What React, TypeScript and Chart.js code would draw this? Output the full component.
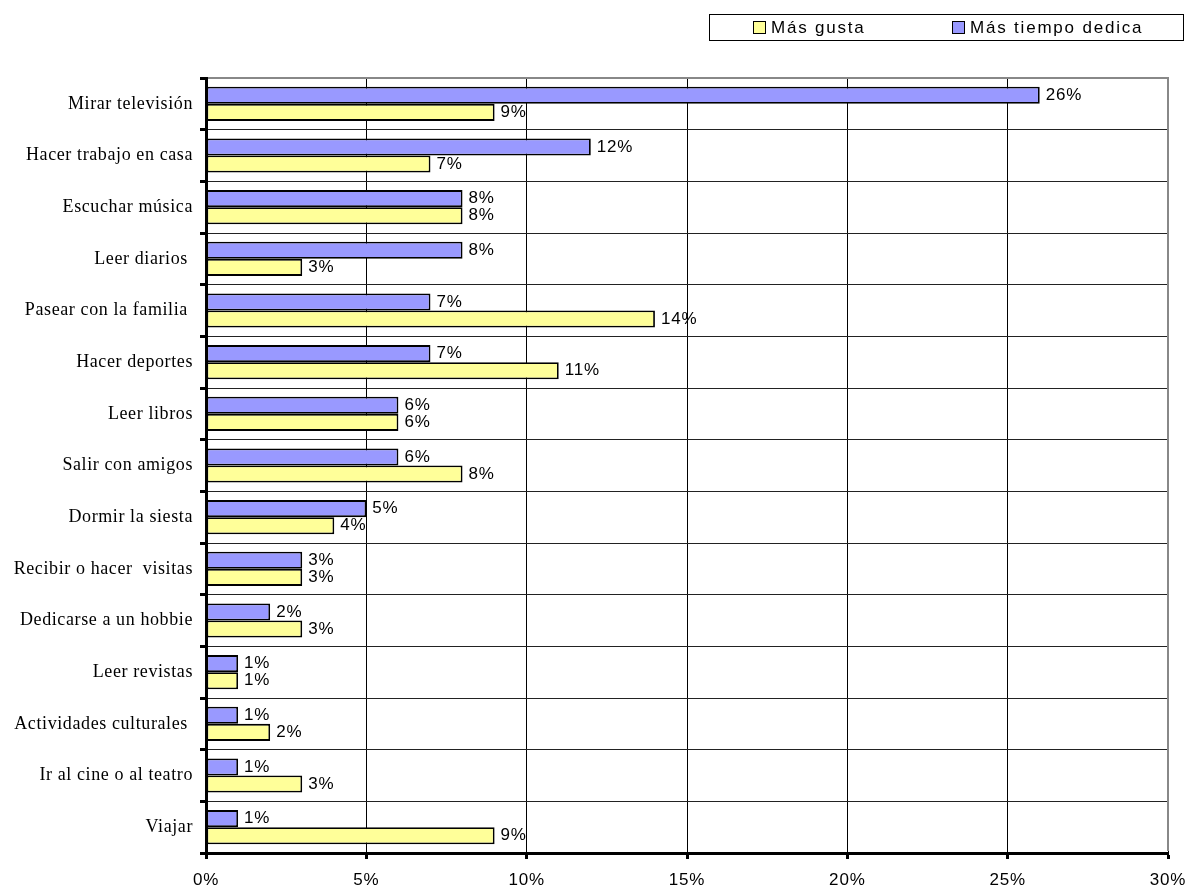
import React, { useEffect, useRef } from 'react';
import { Chart, registerables } from 'chart.js';

Chart.register(...registerables);

const categories = [
  'Mirar televisión',
  'Hacer trabajo en casa',
  'Escuchar música',
  'Leer diarios ',
  'Pasear con la familia ',
  'Hacer deportes',
  'Leer libros',
  'Salir con amigos',
  'Dormir la siesta',
  'Recibir o hacer  visitas',
  'Dedicarse a un hobbie',
  'Leer revistas',
  'Actividades culturales ',
  'Ir al cine o al teatro',
  'Viajar',
];

const tiempoValues = [26, 12, 8, 8, 7, 7, 6, 6, 5, 3, 2, 1, 1, 1, 1];
const gustaValues = [9, 7, 8, 3, 14, 11, 6, 8, 4, 3, 3, 1, 2, 3, 9];

const xMin = 0;
const xMax = 30;
const xStep = 5;

const seriesTiempo = 'Más tiempo dedica';
const seriesGusta = 'Más gusta';

const colorTiempo = '#9999FF';
const colorGusta = '#FFFF99';

const SANS = '"Liberation Sans", Arial, sans-serif';
const SERIF = '"Liberation Serif", "Times New Roman", serif';
const SPACING = '0.8px';
const Y_SPACING = '0.6px';

const spacingPlugin = {
  id: 'spacing',
  beforeDraw(chart: any) {
    const ctx = chart.ctx as any;
    ctx.letterSpacing = SPACING;
    const ys = chart.scales.y;
    if (ys && !ys.__patched) {
      const orig = ys.drawLabels.bind(ys);
      ys.drawLabels = (area: any) => {
        ctx.save();
        ctx.letterSpacing = Y_SPACING;
        orig(area);
        ctx.restore();
      };
      ys.__patched = true;
    }
  },
};

const labelsPlugin = {
  id: 'valueLabels',
  afterDatasetsDraw(chart: any) {
    const ctx = chart.ctx;
    ctx.save();
    (ctx as any).letterSpacing = SPACING;
    ctx.font = '17px ' + SANS;
    ctx.fillStyle = '#000';
    ctx.textAlign = 'left';
    ctx.textBaseline = 'middle';
    chart.data.datasets.forEach((ds: any, i: number) => {
      const meta = chart.getDatasetMeta(i);
      meta.data.forEach((el: any, j: number) => {
        ctx.fillText(ds.data[j] + '%', el.x + 6, el.y);
      });
    });
    ctx.restore();
  },
};

const framePlugin = {
  id: 'frame',
  afterDraw(chart: any) {
    const ctx = chart.ctx;
    const a = chart.chartArea;
    ctx.save();
    ctx.strokeStyle = '#888';
    ctx.lineWidth = 2;
    ctx.beginPath();
    ctx.moveTo(a.left + 2, a.top);
    ctx.lineTo(a.right, a.top);
    ctx.lineTo(a.right, a.bottom - 2);
    ctx.stroke();
    ctx.restore();

    // legend
    ctx.save();
    ctx.fillStyle = '#fff';
    ctx.fillRect(709.5, 14.5, 474, 26);
    ctx.strokeStyle = '#000';
    ctx.lineWidth = 1;
    ctx.strokeRect(709.5, 14.5, 474, 26);
    const items = [
      { text: seriesGusta, color: colorGusta, x: 753 },
      { text: seriesTiempo, color: colorTiempo, x: 952 },
    ];
    ctx.font = '17px ' + SANS;
    (ctx as any).letterSpacing = '1.8px';
    ctx.textAlign = 'left';
    ctx.textBaseline = 'middle';
    items.forEach((it) => {
      ctx.fillStyle = it.color;
      ctx.fillRect(it.x + 0.5, 21.5, 12, 12);
      ctx.strokeStyle = '#000';
      ctx.strokeRect(it.x + 0.5, 21.5, 12, 12);
      ctx.fillStyle = '#000';
      ctx.fillText(it.text, it.x + 18, 28);
    });
    ctx.restore();
  },
};

export default function App() {
  const ref = useRef<HTMLCanvasElement | null>(null);

  useEffect(() => {
    document.body.style.margin = '0';
    if (!ref.current) return;
    const chart = new Chart(ref.current, {
      type: 'bar',
      data: {
        labels: categories,
        datasets: [
          {
            label: seriesTiempo,
            data: tiempoValues,
            backgroundColor: colorTiempo,
            borderColor: '#000',
            borderWidth: 1.8,
            borderSkipped: false,
            categoryPercentage: 0.66,
            barPercentage: 1,
          },
          {
            label: seriesGusta,
            data: gustaValues,
            backgroundColor: colorGusta,
            borderColor: '#000',
            borderWidth: 1.8,
            borderSkipped: false,
            categoryPercentage: 0.66,
            barPercentage: 1,
          },
        ],
      },
      options: {
        indexAxis: 'y',
        responsive: false,
        animation: false,
        layout: { padding: { top: 78, right: 20, bottom: 0, left: 0 } },
        plugins: {
          legend: { display: false },
          tooltip: { enabled: false },
        },
        scales: {
          x: {
            min: xMin,
            max: xMax,
            ticks: {
              stepSize: xStep,
              padding: 11,
              color: '#000',
              font: { family: SANS, size: 17 },
              callback: (v: any) => v + '%',
              maxRotation: 0,
            },
            grid: {
              color: '#000',
              lineWidth: 1,
              tickLength: 6,
              tickWidth: 3,
              tickColor: '#000',
            },
            border: { color: '#000', width: 3 },
            afterFit: (s: any) => {
              s.height = 37;
              s.paddingLeft = 0;
              s.paddingRight = 0;
            },
          },
          y: {
            ticks: {
              padding: 7,
              color: '#000',
              font: { family: SERIF, size: 18 },
              autoSkip: false,
            },
            grid: {
              offset: true,
              color: '#222',
              lineWidth: 1,
              tickLength: 6,
              tickWidth: 3,
              tickColor: '#000',
            },
            border: { color: '#000', width: 3 },
            afterFit: (s: any) => {
              s.width = 206;
              s.paddingTop = 0;
              s.paddingBottom = 0;
            },
          },
        },
      },
      plugins: [spacingPlugin, labelsPlugin, framePlugin],
    } as any);
    return () => chart.destroy();
  }, []);

  return (
    <div style={{ width: 1188, height: 890, background: '#fff' }}>
      <canvas ref={ref} width={1188} height={890} style={{ display: 'block' }} />
    </div>
  );
}
